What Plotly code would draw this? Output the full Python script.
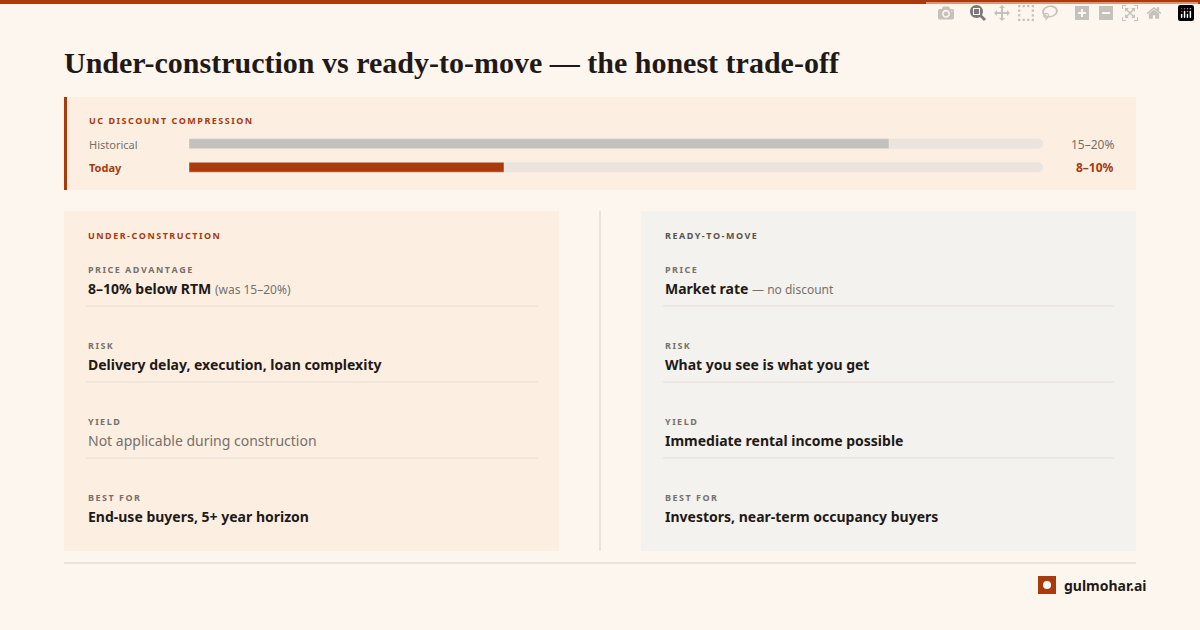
import plotly.graph_objects as go

# ---------------------------------------------------------------------------
# Data
# ---------------------------------------------------------------------------
bar_labels = ['Historical', 'Today']
bar_values = [20.0, 9.0]          # discount, % (top of range)
bar_scale = 24.4                  # track full length
bar_texts = ['15–20%', '8–10%']

uc_labels = ['PRICE ADVANTAGE', 'RISK', 'YIELD', 'BEST FOR']
uc_values = ['<b>8–10% below RTM</b> <span style="color:#77706a;font-size:12px">(was 15–20%)</span>',
             '<b>Delivery delay, execution, loan complexity</b>',
             '<span style="color:#77706a">Not applicable during construction</span>',
             '<b>End-use buyers, 5+ year horizon</b>']
rtm_labels = ['PRICE', 'RISK', 'YIELD', 'BEST FOR']
rtm_values = ['<b>Market rate</b> <span style="color:#77706a;font-size:12px">— no discount</span>',
              '<b>What you see is what you get</b>',
              '<b>Immediate rental income possible</b>',
              '<b>Investors, near-term occupancy buyers</b>']

RUST = '#a83a0c'
INK = '#1f1a17'
GREY = '#77706a'
BG = '#fdf6ef'
SANS = 'Noto Sans, Inter, sans-serif'
W, H = 1200, 630

fig = go.Figure()

# Compression bars --------------------------------------------------------
fig.add_trace(go.Bar(
    y=bar_labels, x=[bar_scale] * len(bar_labels), orientation='h',
    marker=dict(color='#ece3da', cornerradius=5), width=0.42,
    xaxis='x2', yaxis='y2', hoverinfo='skip', showlegend=False))
fig.add_trace(go.Bar(
    y=bar_labels, x=bar_values, orientation='h',
    marker=dict(color=['#c4c0bb', RUST], cornerradius=5), width=0.42,
    xaxis='x2', yaxis='y2', showlegend=False))

shapes = []
ann = []


def rect(x0, y0, x1, y1, color):
    shapes.append(dict(type='rect', xref='x', yref='y', x0=x0, y0=y0, x1=x1, y1=y1,
                       fillcolor=color, line=dict(width=0), layer='below'))


def hline(x0, x1, y, color='#e6ddd3', w=1):
    shapes.append(dict(type='line', xref='x', yref='y', x0=x0, x1=x1, y0=y, y1=y,
                       line=dict(color=color, width=w), layer='below'))


def text(x, y, s, size=12, color=INK, anchor='left', family=SANS):
    ann.append(dict(xref='x', yref='y', x=x, y=y, text=s, showarrow=False,
                    xanchor=anchor, yanchor='middle',
                    font=dict(size=size, color=color, family=family)))


def spaced(s):
    return '\u2009'.join(s)


rect(0, 0, W, 4, RUST)
text(62, 62, '<b>Under-construction vs ready-to-move — the honest trade-off</b>', 30, INK,
     family='Liberation Serif, DejaVu Serif, serif')

# compression panel
rect(64, 97, 1136, 190, '#fcefe2')
rect(64, 97, 67, 190, RUST)
text(87, 120, '<b>' + spaced('UC DISCOUNT COMPRESSION') + '</b>', 9, RUST)
for i, (lab, t) in enumerate(zip(bar_labels, bar_texts)):
    y = 144 + 23 * i
    bold = i == 1
    c = RUST if bold else GREY
    text(87, y, f'<b>{lab}</b>' if bold else lab, 11, c)
    text(1116, y, f'<b>{t}</b>' if bold else t, 12, c, anchor='right')

# cards
rect(64, 211, 559, 551, '#fcefe2')
rect(641, 211, 1136, 551, '#f3f2ee')
shapes.append(dict(type='line', xref='x', yref='y', x0=600, x1=600, y0=211, y1=551,
                   line=dict(color='#d8d0c6', width=1)))
text(86, 235, '<b>' + spaced('UNDER-CONSTRUCTION') + '</b>', 9, RUST)
text(663, 235, '<b>' + spaced('READY-TO-MOVE') + '</b>', 9, '#5a524c')

for x0, x1, labels, values in [(86, 538, uc_labels, uc_values),
                               (663, 1114, rtm_labels, rtm_values)]:
    for i, (lab, val) in enumerate(zip(labels, values)):
        y = 269 + 76 * i
        text(x0, y, '<b>' + spaced(lab) + '</b>', 9, GREY)
        text(x0, y + 19, val, 14, INK)
        if i < len(labels) - 1:
            hline(x0, x1, y + 37)

# footer
hline(64, 1136, 563, '#d8d0c6')
shapes.append(dict(type='rect', xref='x', yref='y', x0=1038, x1=1056, y0=576, y1=594,
                   fillcolor=RUST, line=dict(width=0)))
shapes.append(dict(type='circle', xref='x', yref='y', x0=1043, x1=1051, y0=581, y1=589,
                   fillcolor='white', line=dict(width=0)))
text(1062, 585, '<b>gulmohar.ai</b>', 14, INK)

fig.update_layout(
    width=W, height=H, margin=dict(l=0, r=0, t=0, b=0),
    paper_bgcolor=BG, plot_bgcolor='rgba(0,0,0,0)',
    barmode='overlay', shapes=shapes, annotations=ann,
    xaxis=dict(range=[0, W], visible=False, fixedrange=True),
    yaxis=dict(range=[H, 0], visible=False, fixedrange=True),
    xaxis2=dict(domain=[189 / W, 1043 / W], range=[0, bar_scale], visible=False,
                anchor='y2'),
    yaxis2=dict(domain=[1 - 179 / H, 1 - 132 / H], visible=False, anchor='x2',
                autorange='reversed'),
)

fig.write_html('out.html')
# drop the browser's default body margin so the canvas sits at 0,0
with open('out.html', encoding='utf-8') as f:
    html = f.read()
html = html.replace('<head>', '<head><style>body{margin:0;background:%s}</style>' % BG, 1)
with open('out.html', 'w', encoding='utf-8') as f:
    f.write(html)
